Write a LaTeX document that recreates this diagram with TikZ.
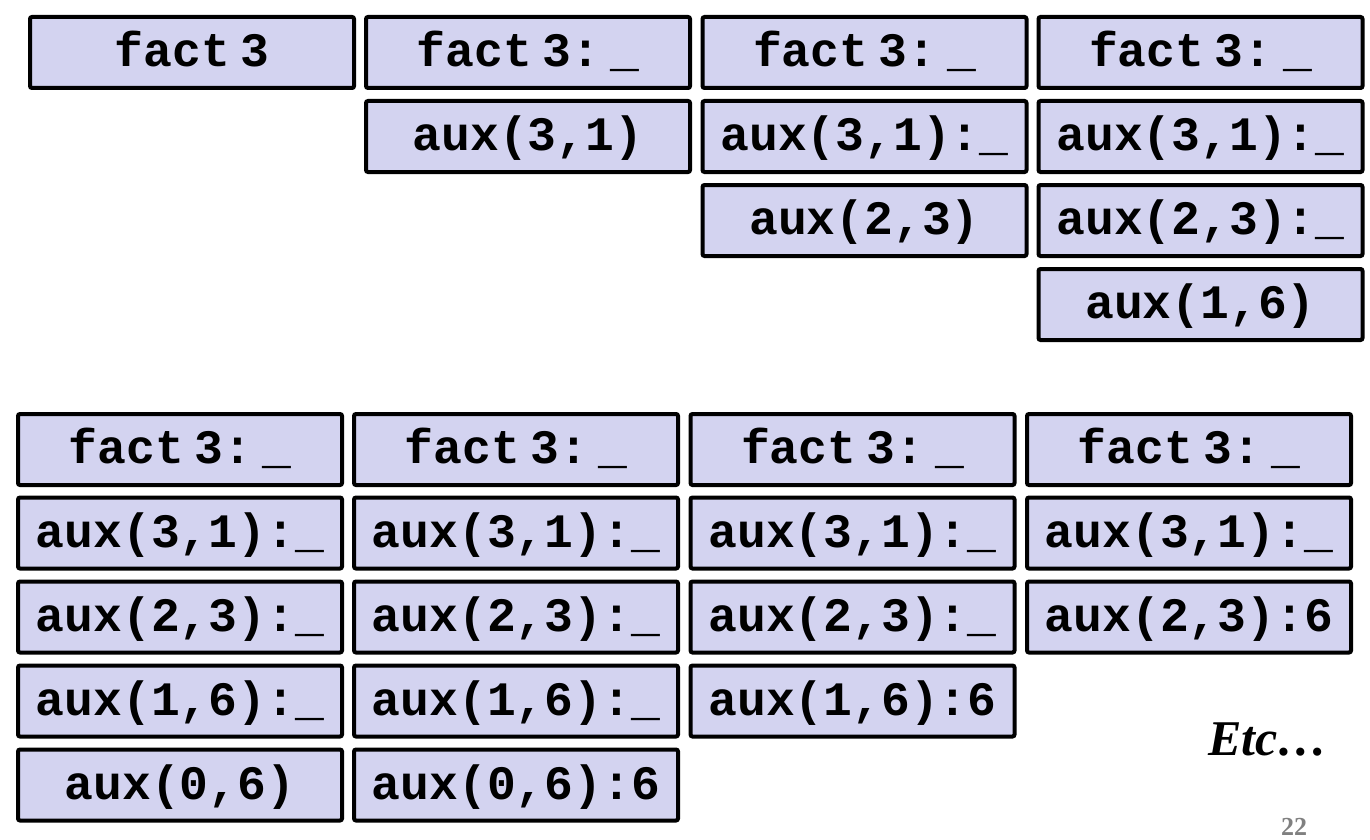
\documentclass[tikz,border=0pt]{standalone}
\usepackage{fontspec}
\newfontfamily\codefont{Liberation Mono}
\newfontfamily\slidefont{Liberation Serif}
\definecolor{cellfill}{RGB}{211,211,240}
\definecolor{pagegray}{RGB}{128,128,128}
\newcommand{\cellgap}{\hspace{0.22em}}
\begin{document}
\begin{tikzpicture}[x=0.5pt,y=-0.5pt,
    cell/.style={draw=black,line width=2pt,fill=cellfill,rounded corners=1pt,
        minimum width=162pt,minimum height=35.5pt,inner sep=0pt,
        text height=17pt,text depth=3pt,font=\codefont\bfseries\fontsize{24}{24}\selectfont}]
        \useasboundingbox (0,0) rectangle (1370,840);
        % top half: columns and rows
        \def\xa{192} \def\xb{528} \def\xc{864.5} \def\xd{1200.5}
        \def\ya{52.5} \def\yb{136.5} \def\yc{220.5} \def\yd{304.5}

        \node (ta1) at (\xa,\ya) [cell] {fact\cellgap3};

        \node (tb1) at (\xb,\ya) [cell] {fact\cellgap3:\cellgap\_};
        \node (tb2) at (\xb,\yb) [cell] {aux(3,1)};

        \node (tc1) at (\xc,\ya) [cell] {fact\cellgap3:\cellgap\_};
        \node (tc2) at (\xc,\yb) [cell] {aux(3,1):\_};
        \node (tc3) at (\xc,\yc) [cell] {aux(2,3)};

        \node (td1) at (\xd,\ya) [cell] {fact\cellgap3:\cellgap\_};
        \node (td2) at (\xd,\yb) [cell] {aux(3,1):\_};
        \node (td3) at (\xd,\yc) [cell] {aux(2,3):\_};
        \node (td4) at (\xd,\yd) [cell] {aux(1,6)};

        % bottom half
        \def\xe{180} \def\xf{516} \def\xg{852.5} \def\xh{1189}
        \def\ye{449.5} \def\yf{533} \def\yg{617} \def\yh{701} \def\yi{785}

        \node (be1) at (\xe,\ye) [cell] {fact\cellgap3:\cellgap\_};
        \node (be2) at (\xe,\yf) [cell] {aux(3,1):\_};
        \node (be3) at (\xe,\yg) [cell] {aux(2,3):\_};
        \node (be4) at (\xe,\yh) [cell] {aux(1,6):\_};
        \node (be5) at (\xe,\yi) [cell] {aux(0,6)};

        \node (bf1) at (\xf,\ye) [cell] {fact\cellgap3:\cellgap\_};
        \node (bf2) at (\xf,\yf) [cell] {aux(3,1):\_};
        \node (bf3) at (\xf,\yg) [cell] {aux(2,3):\_};
        \node (bf4) at (\xf,\yh) [cell] {aux(1,6):\_};
        \node (bf5) at (\xf,\yi) [cell] {aux(0,6):6};

        \node (bg1) at (\xg,\ye) [cell] {fact\cellgap3:\cellgap\_};
        \node (bg2) at (\xg,\yf) [cell] {aux(3,1):\_};
        \node (bg3) at (\xg,\yg) [cell] {aux(2,3):\_};
        \node (bg4) at (\xg,\yh) [cell] {aux(1,6):6};

        \node (bh1) at (\xh,\ye) [cell] {fact\cellgap3:\cellgap\_};
        \node (bh2) at (\xh,\yf) [cell] {aux(3,1):\_};
        \node (bh3) at (\xh,\yg) [cell] {aux(2,3):6};

        \node (etc) at (1208,755) [anchor=base west,inner sep=0pt,
            font=\slidefont\bfseries\itshape\fontsize{25}{25}\selectfont] {Etc\ldots};
        \node (page) at (1294,835) [anchor=base,inner sep=0pt,text=pagegray,
            font=\slidefont\bfseries\fontsize{13}{13}\selectfont] {22};
\end{tikzpicture}
\end{document}
